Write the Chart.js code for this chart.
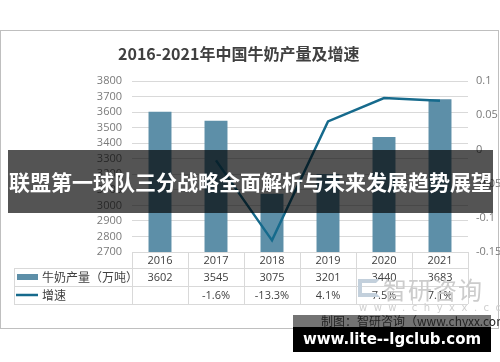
<!DOCTYPE html>
<html>
<head>
<meta charset="utf-8">
<script src="https://cdn.jsdelivr.net/npm/chart.js@4"></script>
<style>
    body { margin: 0; background: #fff; }
    #wrap { position: relative; width: 500px; height: 362px; overflow: hidden; font-family: "Noto Sans CJK SC", sans-serif; }
    #myChart { position: absolute; left: 0; top: 0; }
    .abs { position: absolute; white-space: nowrap; }
    #title { left: 118px; top: 41px; font-size: 16px; font-weight: 700; color: #404040; }
    #mark { left: 383px; top: 271px; font-size: 24px; color: #cccccc; letter-spacing: 1px; }
    #markIcon { left: 358px; top: 279px; width: 22px; height: 18px; border: 4px solid #c3d0dc; border-right-color: transparent; box-sizing: border-box; }
    #markUrl { left: 359px; top: 302px; font-size: 10px; color: #d0d0d0; letter-spacing: 6.5px; font-family: "DejaVu Sans", sans-serif; }
    #banner { left: 8px; top: 150px; width: 485px; height: 63px; background: rgba(0,0,0,0.67); color: #fff;
        font-size: 21px; font-weight: 700; line-height: 63px; text-align: center; }
    #srcBox { left: 293px; top: 315px; width: 198px; height: 12px; background: rgba(0,0,0,0.55); }
    #src { left: 321px; top: 312px; font-size: 12px; color: #222; }
    #site { left: 293px; top: 327px; width: 198px; height: 25px; background: #000; color: #fff;
        font-family: "DejaVu Sans", sans-serif; font-weight: 700; font-size: 15px; line-height: 25px; text-align: center; }
</style>
</head>
<body>
<div id="wrap">
    <canvas id="myChart" width="500" height="362"></canvas>
    <div class="abs" id="title">2016-2021年中国牛奶产量及增速</div>
    <div class="abs" id="markIcon"></div>
    <div class="abs" id="mark">智研咨询</div>
    <div class="abs" id="markUrl">www.chyxx.com</div>
    <div class="abs" id="banner">联盟第一球队三分战略全面解析与未来发展趋势展望</div>
    <div class="abs" id="srcBox"></div>
    <div class="abs" id="src">制图：智研咨询（www.chyxx.com）</div>
    <div class="abs" id="site">www.lite--lgclub.com</div>
</div>
<script>
// data
const years = ['2016', '2017', '2018', '2019', '2020', '2021'];
const milkOutput = [3602, 3545, 3075, 3201, 3440, 3683];
const growthRate = [null, -0.016, -0.133, 0.041, 0.075, 0.071];
const growthText = ['', '-1.6%', '-13.3%', '4.1%', '7.5%', '7.1%'];
const leftTicks = [2700, 2800, 2900, 3000, 3100, 3200, 3300, 3400, 3500, 3600, 3700, 3800];
const rightTicks = [-0.15, -0.1, -0.05, 0, 0.05, 0.1];
const outputName = '牛奶产量（万吨）';
const growthName = '增速';

const barColor = '#5d8fa8';
const lineColor = '#166a8c';
const gridColor = '#d9d9d9';
const tickColor = '#7a7a7a';

// data table, right axis labels and outer frame
const tablePlugin = {
    id: 'dataTable',
    beforeDraw(chart) {
        const ctx = chart.ctx;
        ctx.save();
        ctx.strokeStyle = '#bfbfbf';
        ctx.lineWidth = 1;
        ctx.strokeRect(0.5, 30.5, 498, 298);
        ctx.restore();
    },
    afterDraw(chart) {
        const ctx = chart.ctx;
        const x = chart.scales.x;
        const y1 = chart.scales.y1;
        const area = chart.chartArea;
        const step = (area.right - area.left) / years.length;
        const top = area.bottom;
        const rows = [top, top + 16, top + 34, top + 52];
        const left = 14;

        ctx.save();
        // right axis labels, placed with the y1 scale
        ctx.fillStyle = tickColor;
        ctx.font = '11px "Open Sans", sans-serif';
        ctx.textAlign = 'left';
        ctx.textBaseline = 'middle';
        rightTicks.forEach(v => {
            ctx.fillText(String(v), area.right + 8, y1.getPixelForValue(v));
        });

        ctx.strokeStyle = gridColor;
        ctx.lineWidth = 1;
        ctx.beginPath();
        ctx.moveTo(area.left, rows[0] + 0.5);
        ctx.lineTo(area.right, rows[0] + 0.5);
        for (let r = 1; r < rows.length; r++) {
            ctx.moveTo(left, rows[r] + 0.5);
            ctx.lineTo(area.right, rows[r] + 0.5);
        }
        for (let i = 0; i <= years.length; i++) {
            const px = Math.round(area.left + i * step) + 0.5;
            ctx.moveTo(px, rows[0]);
            ctx.lineTo(px, rows[3]);
        }
        ctx.moveTo(left + 0.5, rows[1]);
        ctx.lineTo(left + 0.5, rows[3]);
        ctx.stroke();

        ctx.fillStyle = '#404040';
        ctx.textAlign = 'center';
        years.forEach((y, i) => {
            const cx = x.getPixelForValue(i);
            ctx.fillText(y, cx, (rows[0] + rows[1]) / 2 + 1);
            ctx.fillText(String(milkOutput[i]), cx, (rows[1] + rows[2]) / 2 + 1);
            ctx.fillText(growthText[i], cx, (rows[2] + rows[3]) / 2 + 1);
        });

        // legend keys
        ctx.fillStyle = barColor;
        ctx.fillRect(17, (rows[1] + rows[2]) / 2 - 3, 21, 6);
        ctx.strokeStyle = lineColor;
        ctx.lineWidth = 2.5;
        ctx.beginPath();
        ctx.moveTo(16, (rows[2] + rows[3]) / 2);
        ctx.lineTo(38, (rows[2] + rows[3]) / 2);
        ctx.stroke();

        ctx.fillStyle = '#404040';
        ctx.textAlign = 'left';
        ctx.font = '12px "Noto Sans CJK SC", sans-serif';
        ctx.fillText(outputName, 42, (rows[1] + rows[2]) / 2);
        ctx.fillText(growthName, 42, (rows[2] + rows[3]) / 2);
        ctx.restore();
    }
};

window.onload = function() {
    var ctx = document.getElementById('myChart').getContext('2d');

    var myChart = new Chart(ctx, {
        data: {
            labels: years,
            datasets: [{
                type: 'line',
                label: growthName,
                data: growthRate,
                yAxisID: 'y1',
                borderColor: lineColor,
                borderWidth: 2.5,
                pointRadius: 0,
                tension: 0,
                order: 1
            }, {
                type: 'bar',
                label: outputName,
                data: milkOutput,
                yAxisID: 'y',
                backgroundColor: barColor,
                barPercentage: 0.41,
                categoryPercentage: 1,
                order: 2
            }]
        },
        options: {
            responsive: false,
            animation: false,
            layout: {
                padding: { top: 81, bottom: 110, left: 0, right: 0 }
            },
            plugins: {
                legend: { display: false },
                title: { display: false },
                tooltip: { enabled: false }
            },
            scales: {
                x: {
                    display: false
                },
                y: {
                    position: 'left',
                    min: 2700,
                    max: 3800,
                    afterBuildTicks(scale) { scale.ticks = leftTicks.map(v => ({ value: v })); },
                    ticks: {
                        autoSkip: false,
                        padding: 10,
                        color: tickColor,
                        font: { size: 11, family: '"Open Sans", sans-serif' },
                        callback: v => String(v)
                    },
                    grid: { color: gridColor, drawTicks: false },
                    border: { display: false },
                    afterFit(scale) { scale.width = 132; }
                },
                y1: {
                    position: 'right',
                    min: -0.15,
                    max: 0.1,
                    ticks: { display: false },
                    grid: { display: false, drawTicks: false },
                    border: { display: false },
                    afterFit(scale) { scale.width = 32; }
                }
            }
        },
        plugins: [tablePlugin]
    });
};
</script>
</body>
</html>
